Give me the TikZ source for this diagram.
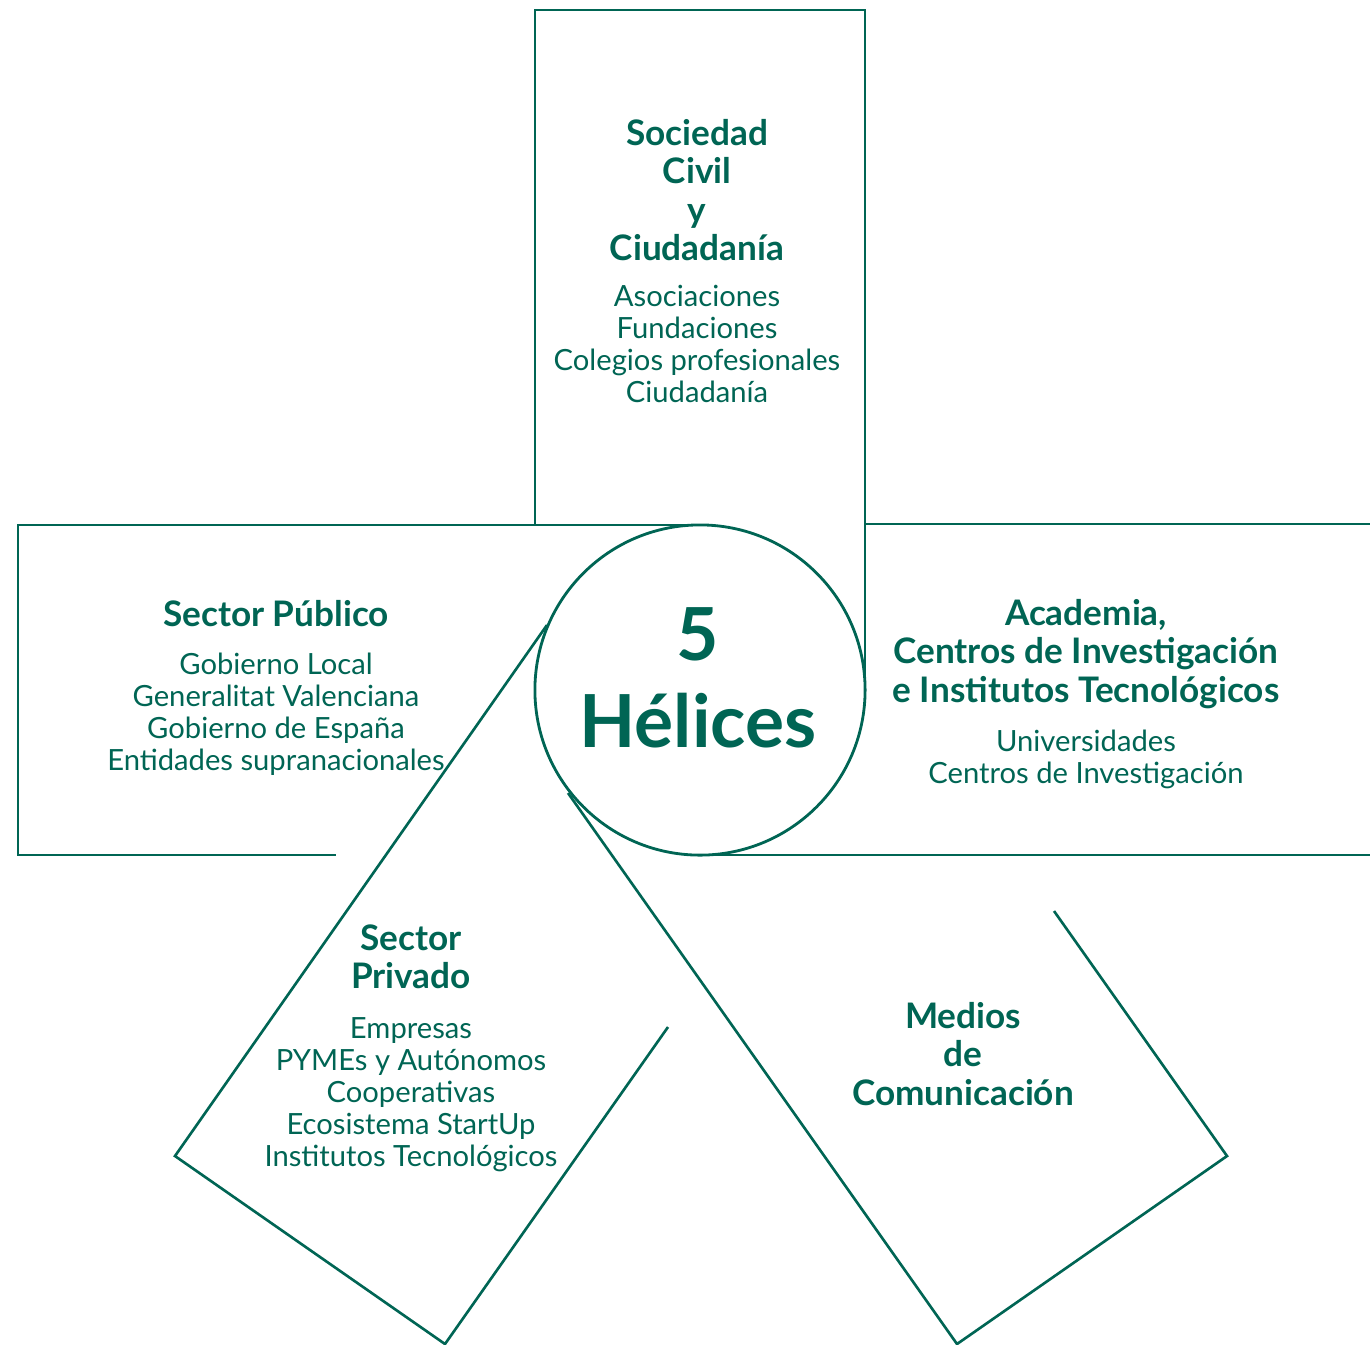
\documentclass[tikz,border=0pt]{standalone}
\usepackage{fontspec}
\setmainfont{Lato}
\usepackage{xcolor}
\usepackage{tikz}
\definecolor{helixgreen}{RGB}{0,101,84}
\tikzset{armline/.style={draw=helixgreen, line width=0.75pt, line join=miter}}

\begin{document}
\begin{tikzpicture}[x=0.01cm, y=-0.01cm]
\tikzset{headtxt/.style={text=helixgreen, align=center, inner sep=0pt, font=\fontsize{10}{10.9}\selectfont\bfseries}}
\tikzset{listtxt/.style={text=helixgreen, align=center, inner sep=0pt, font=\fontsize{8.3}{9.1}\selectfont}}
\tikzset{hub/.style={circle, draw=helixgreen, line width=0.8pt, minimum size=3.3cm, inner sep=0pt}}
    \useasboundingbox (0,0) rectangle (1370,1344);

    \coordinate (TopBL) at (535,525);
    \coordinate (TopTL) at (535,10);
    \coordinate (TopTR) at (865,10);
    \coordinate (TopBR) at (865,690);

    \coordinate (LeftTR) at (700,525);
    \coordinate (LeftTL) at (18,525);
    \coordinate (LeftBL) at (18,855);
    \coordinate (LeftBR) at (336,855);

    \coordinate (RightTL) at (865,524);
    \coordinate (RightTR) at (1370,524);
    \coordinate (RightBL) at (700,855);
    \coordinate (RightBR) at (1370,855);

    \coordinate (PrivIn) at (547,625);
    \coordinate (PrivL) at (175,1156);
    \coordinate (PrivB) at (445,1344);
    \coordinate (PrivOut) at (668,1027);

    \coordinate (MedIn) at (568,793);
    \coordinate (MedB) at (957,1344);
    \coordinate (MedR) at (1227,1156);
    \coordinate (MedOut) at (1054,911);

    \draw[armline] (TopBL) -- (TopTL) -- (TopTR) -- (TopBR);
    \draw[armline] (LeftTR) -- (LeftTL) -- (LeftBL) -- (LeftBR);
    \draw[armline] (RightTL) -- (RightTR);
    \draw[armline] (RightBL) -- (RightBR);
    \draw[armline] (PrivIn) -- (PrivL) -- (PrivB) -- (PrivOut);
    \draw[armline] (MedIn) -- (MedB) -- (MedR) -- (MedOut);

	\node[hub] (hub) at (700,690) {};
	\node[text=helixgreen, align=center, inner sep=0pt, font=\fontsize{20.8}{24.8}\selectfont\bfseries] (hubtxt) at (698,678) {5\\Hélices};
% % % % % % % % % % % % % % % % % % %
    \node[headtxt] (civilhead) at (697,190) {Sociedad\\Civil\\y\\Ciudadanía};
    \node[listtxt] (civillist) at (697,344) {Asociaciones\\Fundaciones\\Colegios profesionales\\Ciudadanía};

    \node[headtxt] (publichead) at (276,614) {Sector Público};
    \node[listtxt] (publiclist) at (276,714) {Gobierno Local\\Generalitat Valenciana\\Gobierno de España\\Entidades supranacionales};

    \node[headtxt] (acadhead) at (1086,654) {Academia,\\Centros de Investigación\\e Institutos Tecnológicos};
    \node[listtxt] (acadlist) at (1086,759) {Universidades\\Centros de Investigación};

    \node[headtxt] (privhead) at (411,957) {Sector\\Privado};
    \node[listtxt] (privlist) at (411,1095) {Empresas\\PYMEs y Autónomos\\Cooperativas\\Ecosistema StartUp\\Institutos Tecnológicos};

    \node[headtxt] (medhead) at (963,1054) {Medios\\de\\Comunicación};
\end{tikzpicture}
\end{document}
